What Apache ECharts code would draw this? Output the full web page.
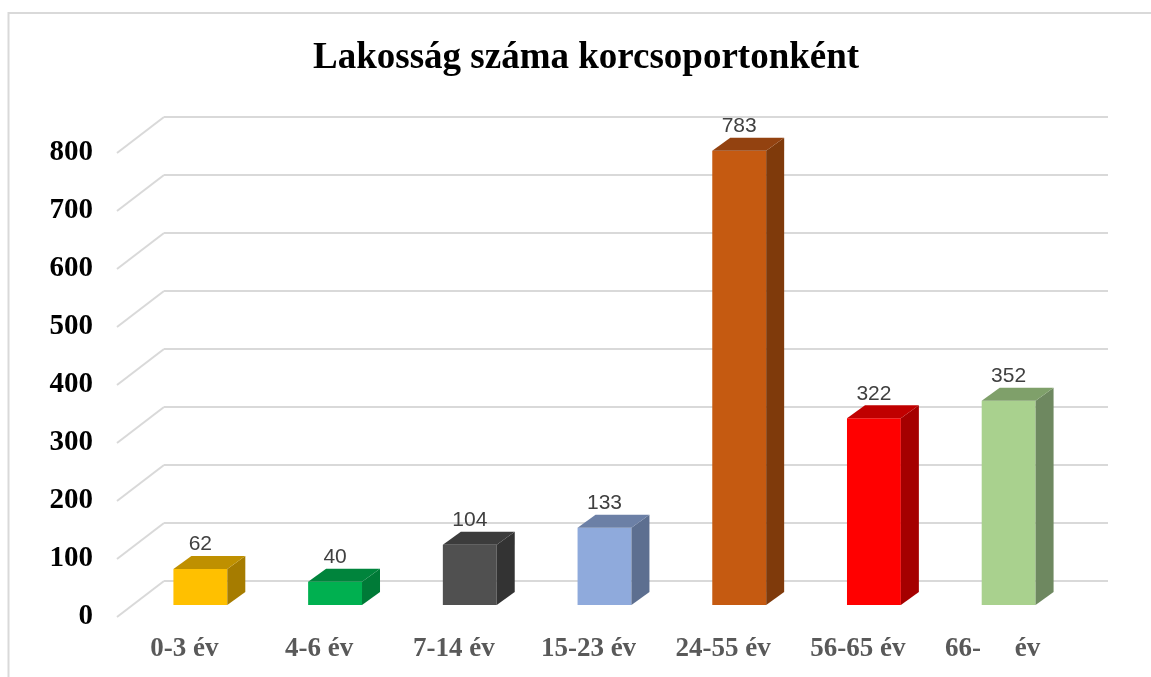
<!DOCTYPE html>
<html>
<head>
<meta charset="utf-8">
<script src="https://cdn.jsdelivr.net/npm/echarts@6/dist/echarts.min.js"></script>
<style>
  html, body { margin: 0; padding: 0; background: #fff; }
  #main { width: 1151px; height: 677px; }
</style>
</head>
<body>
<div id="main"></div>
<script>
// adatok
var categories = ['0-3 év', '4-6 év', '7-14 év', '15-23 év', '24-55 év', '56-65 év', '66-     év'];
var population = [62, 40, 104, 133, 783, 322, 352];
var yTicks = [0, 100, 200, 300, 400, 500, 600, 700, 800];

// színek: elöl, oldal, tető
var faceColors = ['#FFC000', '#00B050', '#505050', '#8FAADC', '#C55A11', '#FF0000', '#A9D18E'];
var sideColors = ['#A67C00', '#007A37', '#333333', '#5D6F90', '#7F3A0B', '#A50000', '#6E8860'];
var topColors  = ['#BF9000', '#00843C', '#3C3C3C', '#6C80A6', '#934210', '#C00000', '#7FA06A'];

var DX = 18, DY = 13;        // bar depth
var FLOOR_DX = 47, FLOOR_DY = 36;

var chart = echarts.init(document.getElementById('main'));

function renderBox(params, api) {
  var i = api.value(0);
  var v = api.value(1);
  var top = api.coord([i, v]);
  var base = api.coord([i, 0]);
  var bw = api.size([1, 0])[0] * 0.4;
  var x0 = top[0] - bw / 2, x1 = top[0] + bw / 2;
  var y0 = top[1], y1 = base[1];
  return {
    type: 'group',
    children: [
      { type: 'rect', shape: { x: x0, y: y0, width: bw, height: y1 - y0 }, style: { fill: faceColors[i] } },
      { type: 'polygon', shape: { points: [[x1, y0], [x1 + DX, y0 - DY], [x1 + DX, y1 - DY], [x1, y1]] }, style: { fill: sideColors[i] } },
      { type: 'polygon', shape: { points: [[x0, y0], [x0 + DX, y0 - DY], [x1 + DX, y0 - DY], [x1, y0]] }, style: { fill: topColors[i] } },
      { type: 'text', x: top[0], y: y0 - DY - 1,
        style: { text: String(v), align: 'center', verticalAlign: 'bottom',
          fill: '#404040', font: '21px "Liberation Sans", Arial, sans-serif' } }
    ]
  };
}

function renderFloor(params, api) {
  var cs = params.coordSys;
  var y = api.coord([0, api.value(0)])[1];
  return {
    type: 'line',
    shape: { x1: cs.x, y1: y, x2: cs.x - FLOOR_DX, y2: y + FLOOR_DY },
    style: { stroke: '#d9d9d9', lineWidth: 2 }
  };
}

var valueAxisBase = { type: 'value', min: 0, max: 800, interval: 100 };

var option = {
  backgroundColor: '#fff',
  animation: false,
  title: {
    text: 'Lakosság száma korcsoportonként',
    left: 308, top: 35,
    textStyle: { fontFamily: '"Liberation Serif", "Times New Roman", serif', fontWeight: 'bold', fontSize: 37, color: '#000' }
  },
  graphic: [{
    type: 'polyline', silent: true,
    shape: { points: [[8.5, 677], [8.5, 13], [1151, 13]] },
    style: { stroke: '#d9d9d9', lineWidth: 2, fill: null }
  }],
  grid: [
    { left: 164, right: 43, top: 117, bottom: 96 },   // hátsó fal
    { left: 133, right: 75, top: 141, bottom: 72 },   // oszlopok síkja
    { left: 117, right: 91, top: 153, bottom: 60 }    // elülső sík, feliratok
  ],
  xAxis: [
    { gridIndex: 0, type: 'category', data: categories, show: false },
    { gridIndex: 1, type: 'category', data: categories, show: false },
    { gridIndex: 2, type: 'category', data: categories,
      axisLine: { show: false }, axisTick: { show: false },
      axisLabel: { margin: 19, color: '#595959', fontSize: 27, fontWeight: 'bold',
        fontFamily: '"Liberation Serif", "Times New Roman", serif' } }
  ],
  yAxis: [
    Object.assign({ gridIndex: 0, axisLine: { show: false }, axisTick: { show: false }, axisLabel: { show: false },
      splitLine: { lineStyle: { color: '#d9d9d9', width: 2 } } }, valueAxisBase),
    Object.assign({ gridIndex: 1, show: false, splitLine: { show: false } }, valueAxisBase),
    Object.assign({ gridIndex: 2, axisLine: { show: false }, axisTick: { show: false }, splitLine: { show: false },
      axisLabel: { margin: 24, color: '#000', fontSize: 29, fontWeight: 'bold',
        fontFamily: '"Liberation Serif", "Times New Roman", serif' } }, valueAxisBase)
  ],
  series: [
    {
      type: 'custom', xAxisIndex: 0, yAxisIndex: 0, silent: true, z: 1,
      renderItem: renderFloor,
      data: yTicks.map(function (t) { return [t]; })
    },
    {
      type: 'custom', xAxisIndex: 1, yAxisIndex: 1, z: 5,
      renderItem: renderBox,
      encode: { x: 0, y: 1 },
      data: population.map(function (v, i) { return [i, v]; })
    }
  ]
};

chart.setOption(option);
</script>
</body>
</html>
